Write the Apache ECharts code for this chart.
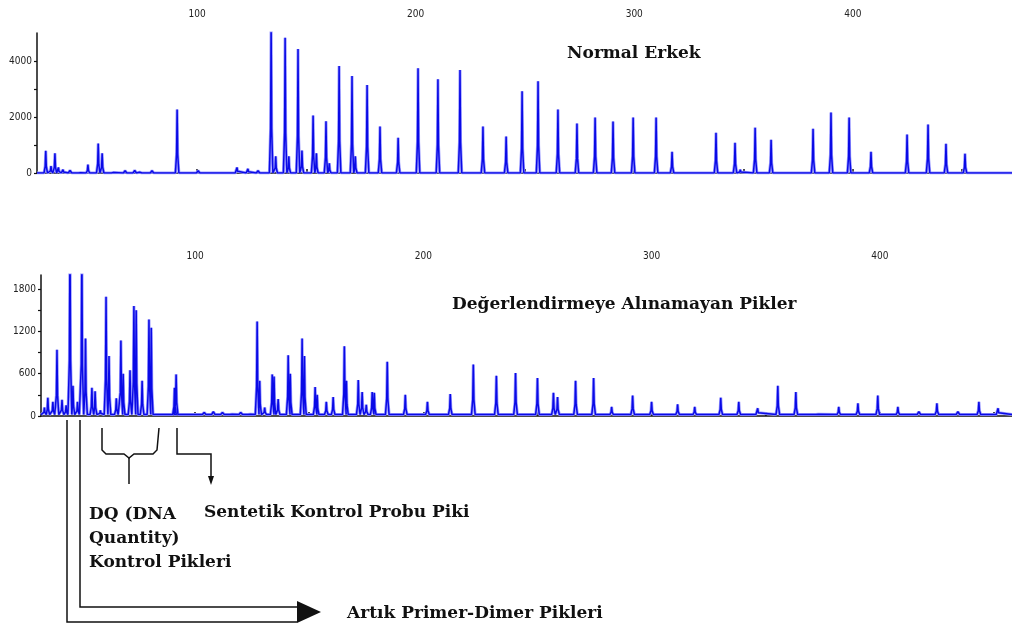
<!DOCTYPE html>
<html><head><meta charset="utf-8">
<script src="https://cdn.jsdelivr.net/npm/echarts@6/dist/echarts.min.js"></script>
<style>html,body{margin:0;padding:0;background:#fff}#c{width:1012px;height:629px}</style>
</head><body><div id="c"></div>
<script>
// ---- data (fragment size, peak height) ----
const topTitle = "Normal Erkek";
const bottomTitle = "Değerlendirmeye Alınamayan Pikler";
const topPeaks = [
  [30.8,790],[33.2,250],[35.0,700],[36.6,200],[38.7,120],[41.9,90],[46.5,40],[50.1,300],
  [54.8,1050],[56.6,700],[61.6,60],[67.1,80],[71.5,90],[74.0,90],[79.4,80],[90.9,2270],
  [100.5,80],[118.3,200],[123.3,150],[127.9,80],[133.9,5300],[136.0,600],[140.3,4830],
  [142.0,600],[146.2,4430],[148.0,800],[153.1,2050],[154.6,700],[159.0,1850],[160.5,350],
  [165.0,3820],[170.9,3460],[172.4,600],[177.8,3140],[183.7,1660],[192.0,1260],
  [201.1,3740],[210.2,3350],[220.3,3680],[230.8,1660],[241.4,1300],[248.7,2920],
  [256.0,3280],[265.1,2270],[273.8,1770],[282.1,1980],[290.3,1840],[299.5,1980],
  [310.0,1980],[317.3,760],[337.4,1440],[346.1,1080],[348.5,120],[355.3,1620],[362.6,1190],
  [381.8,1580],[390.0,2160],[398.3,1980],[408.3,760],[424.8,1370],[434.4,1730],
  [442.6,1040],[451.3,690]
];
const bottomPeaks = [
  [34.0,120],[35.5,260],[37.7,200],[39.5,940],[41.7,230],[43.5,150],[45.2,2600],[46.5,430],
  [48.5,200],[50.4,2400],[52.0,1100],[54.8,400],[56.2,350],[58.5,80],[61.0,1690],[62.3,850],
  [65.5,250],[67.5,1070],[68.5,600],[71.5,650],[73.2,1560],[74.2,1500],[76.8,500],[79.8,1370],
  [80.8,1250],[91.0,400],[91.7,590],[104,50],[108,60],[112,50],[116,40],[120,50],[124,40],
  [127.2,1340],[128.3,500],[130.5,120],[133.8,590],[134.6,560],[136.4,240],[140.8,860],
  [141.7,600],[146.9,1100],[147.9,850],[152.6,410],[153.5,300],[157.5,200],[160.5,270],
  [165.4,990],[166.3,500],[171.5,510],[173.2,340],[175.0,160],[177.6,340],[178.5,330],
  [184.2,770],[192.1,300],[201.8,200],[211.8,310],[221.9,730],[232.0,570],[240.4,610],
  [250.0,540],[257.0,330],[258.8,270],[266.7,500],[274.6,540],[282.5,130],[291.7,290],
  [300.0,200],[311.4,165],[318.9,130],[330.3,260],[338.2,200],[346.5,110],[355.3,430],
  [363.2,340],[372.8,40],[382.0,130],[390.4,180],[399.1,290],[407.9,130],[417.1,60],
  [425.0,180],[434.2,60],[443.4,200],[451.8,110]
];
const xTickValues = [100,150,200,250,300,350,400,450];
const xLabelValues = [100,200,300,400];
const topRange = [26.8, 472.8];
const bottomRange = [32.5, 457.9];
const topYMax = 5000, topYStep = 1000, topYLabelStep = 2000;
const bottomYMax = 2000, bottomYStep = 300, bottomYLabelStep = 600;

// ---- build the traces (baseline - peak - baseline around every listed peak) ----
function trace(peaks, range, base) {
  const pts = [[range[0], base]];
  peaks.slice().sort((a,b)=>a[0]-b[0]).forEach(([v,h]) => {
    pts.push([v-0.8, base], [v-0.25, base+(h-base)*0.3], [v, h], [v+0.25, base+(h-base)*0.3], [v+0.8, base]);
  });
  pts.push([range[1], base]);
  return pts;
}
const topTrace = trace(topPeaks, topRange, 0);
const bottomTrace = trace(bottomPeaks, bottomRange, 20);

const labelFont = {fontFamily: "'Liberation Sans Narrow','DejaVu Sans Condensed',sans-serif", fontSize: 10, color: '#222'};
const G = [{left:37, top:33, w:975, h:140}, {left:41, top:275, w:971, h:141}];
function xAx(grid, range) {
  return {
    type:'value', gridIndex:grid, position:'top', min:range[0], max:range[1],
    axisLine:{show:true, lineStyle:{color:'#111', width:1.5}},
    axisTick:{show:true, length:4, customValues:xTickValues, lineStyle:{color:'#111', width:1.5}},
    axisLabel:{show:true, customValues:xLabelValues, margin:14, ...labelFont},
    splitLine:{show:false}
  };
}
function yAx(grid, max, step, labelStep) {
  return {
    type:'value', gridIndex:grid, position:'left', min:0, max:max, interval:step,
    axisLine:{show:true, lineStyle:{color:'#111', width:1.5}},
    axisTick:{show:true, length:3, lineStyle:{color:'#111', width:1.2}},
    axisLabel:{show:true, margin:5, ...labelFont, showMaxLabel:false,
      formatter: v => (v % labelStep === 0 && v < max) ? String(v) : ''},
    splitLine:{show:false}
  };
}
function lines(xi, yi, data) {
  return [
    {type:'line', xAxisIndex:xi, yAxisIndex:yi, data:data, symbol:'none', silent:true, clip:true,
     lineStyle:{color:'#9a9aff', width:3}, animation:false},
    {type:'line', xAxisIndex:xi, yAxisIndex:yi, data:data, symbol:'none', silent:true, clip:true,
     lineStyle:{color:'#0a0ae6', width:1.5}, animation:false}
  ];
}

const chart = echarts.init(document.getElementById('c'), null, {renderer:'canvas'});
const serif = "'DejaVu Serif',serif";
const ann = {stroke:'#111', lineWidth:1.5, fill:null};
const tf = "bold 17px " + serif;
chart.setOption({
  animation:false,
  backgroundColor:'#fff',
  grid: G.map(g => ({left:g.left, top:g.top, width:g.w, height:g.h})),
  xAxis:[xAx(0, topRange), xAx(1, bottomRange)],
  yAxis:[yAx(0, topYMax, topYStep, topYLabelStep), yAx(1, bottomYMax, bottomYStep, bottomYLabelStep)],
  series:[...lines(0,0,topTrace), ...lines(1,1,bottomTrace)],
  graphic:[
    {type:'text', left:567, top:45, style:{text:topTitle, font:tf, fill:'#111'}},
    {type:'text', left:452, top:296, style:{text:bottomTitle, font:tf, fill:'#111'}},
    // primer-dimer brackets
    {type:'polyline', shape:{points:[[67,420],[67,622],[297,622]]}, style:ann},
    {type:'polyline', shape:{points:[[80,420],[80,607],[297,607]]}, style:ann},
    {type:'polygon', shape:{points:[[297,601],[297,623],[321,612]]}, style:{fill:'#111'}},
    // DQ brace
    {type:'polyline', shape:{points:[[102,428],[102,450],[106,454],[124,454],[129,458],[134,454],[153,454],[157,450],[159,428]]}, style:ann},
    {type:'line', shape:{x1:129, y1:458, x2:129, y2:484}, style:ann},
    // synthetic probe arrow
    {type:'polyline', shape:{points:[[177,428],[177,454],[211,454],[211,478]]}, style:ann},
    {type:'polygon', shape:{points:[[208,476],[214,476],[211,485]]}, style:{fill:'#111'}},
    {type:'text', left:89, top:506, style:{text:'DQ (DNA', font:tf, fill:'#111'}},
    {type:'text', left:89, top:530, style:{text:'Quantity)', font:tf, fill:'#111'}},
    {type:'text', left:89, top:554, style:{text:'Kontrol Pikleri', font:tf, fill:'#111'}},
    {type:'text', left:204, top:504, style:{text:'Sentetik Kontrol Probu Piki', font:tf, fill:'#111'}},
    {type:'text', left:347, top:605, style:{text:'Artık Primer-Dimer Pikleri', font:tf, fill:'#111'}}
  ]
});
</script></body></html>
